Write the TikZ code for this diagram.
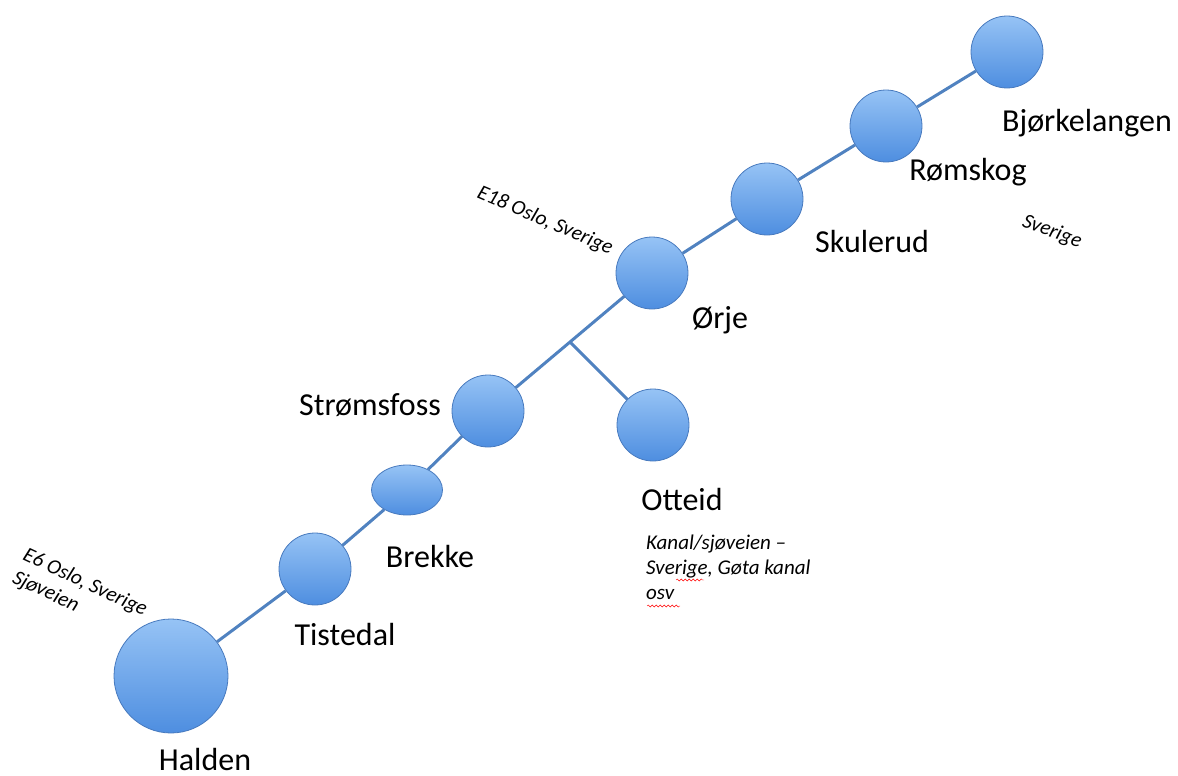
\documentclass[tikz,border=0pt]{standalone}
\usepackage{fontspec}
\setmainfont{Carlito}
\usetikzlibrary{calc,shapes.geometric,decorations.pathmorphing}
\definecolor{balltop}{RGB}{150,195,245}
\definecolor{ballbot}{RGB}{78,142,224}
\definecolor{ballrim}{RGB}{72,122,190}
\definecolor{roadblue}{RGB}{80,130,192}
\tikzset{
  town/.style     = {circle, draw=ballrim, thick, top color=balltop, bottom color=ballbot,
                     minimum size=72pt, inner sep=0pt},
  townname/.style = {font=\fontsize{32}{38}\selectfont, anchor=base, inner sep=0pt},
  remark/.style   = {font=\itshape\fontsize{21}{25}\selectfont, align=left, inner sep=0pt},
  road/.style     = {line width=3pt, draw=roadblue},
  typo/.style     = {red, thin, decorate, decoration={snake, amplitude=1pt, segment length=4pt}},
}

\begin{document}
\begin{tikzpicture}[x=1pt,y=-1pt]
  \useasboundingbox (0,0) rectangle (1178,776);
  % stops along the road
  \node[town, minimum size=114pt] (halden) at (171,676) {};
  \node[town] (tistedal) at (315,569) {};
  \node[town, ellipse, minimum width=71pt, minimum height=50pt] (brekke) at (407,490) {};
  \node[town] (stromsfoss) at (488,411) {};
  \node[town] (orje) at (652,273) {};
  \node[town] (skulerud) at (767,199) {};
  \node[town] (romskog) at (886,126) {};
  \node[town] (bjorkelangen) at (1007,52) {};
  \node[town] (otteid) at (653,425) {};
  % the road and the branch to Otteid
  \foreach \a/\b in {halden/tistedal, tistedal/brekke, brekke/stromsfoss, stromsfoss/orje,
                     orje/skulerud, skulerud/romskog, romskog/bjorkelangen}
     {\draw[road] (\a) -- (\b);}
  \coordinate (fork) at ($(stromsfoss)!0.5!(orje)$);
  \draw[road] (fork) -- (otteid);
  % names
  \node[townname] (haldenname) at (205,770) {Halden};
  \node[townname] (tistedalname) at (345,645) {Tistedal};
  \node[townname] (brekkename) at (430,567) {Brekke};
  \node[townname] (stromsfossname) at (370,415) {Strømsfoss};
  \node[townname] (otteidname) at (682,510) {Otteid};
  \node[townname] (orjename) at (720,328) {Ørje};
  \node[townname] (skulerudname) at (872,252) {Skulerud};
  \node[townname] (romskogname) at (968,180) {Rømskog};
  \node[townname] (bjorkelangenname) at (1087,131) {Bjørkelangen};
  % notes
  \node[remark, rotate=-25, anchor=north west] (e6) at (28,546) {E6 Oslo, Sverige\\Sjøveien};
  \node[remark, rotate=-23] (e18) at (545,221) {E18 Oslo, Sverige};
  \node[remark, rotate=-20] (sverige) at (1052,232) {Sverige};
  \node[remark, anchor=north west] (kanal) at (646,535) {Kanal/sjøveien --\\Sverige, Gøta kanal\\osv};
  \draw[typo] (676,580) -- (704,580);
  \draw[typo] (647,606) -- (680,606);
\end{tikzpicture}
\end{document}
